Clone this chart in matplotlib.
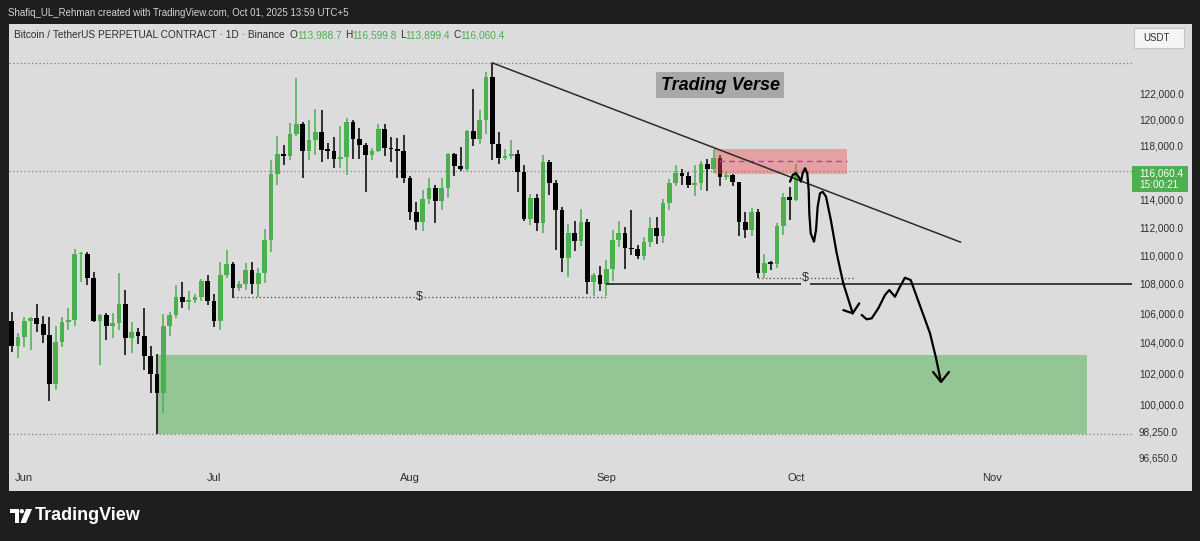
"""
BTCUSDT perpetual (Binance) daily chart, 30 May - 01 Oct 2025
re-drawn from a TradingView screenshot
"""

import numpy as np
import pandas as pd
import matplotlib
matplotlib.use("Agg")
import matplotlib.pyplot as plt
import matplotlib.dates as mdates
from matplotlib.patches import Rectangle, Polygon, Circle
from matplotlib.ticker import FixedLocator, NullLocator

# ---------------- data ----------------
dates = pd.date_range("2025-05-30", "2025-10-01", freq="D")

opens = [
    105450, 103800,
    104420, 105450, 105700, 105250, 104550, 101300, 104080, 105380, 105540, 110060,
    110110, 108440, 105470, 105870, 105160, 105360, 106600, 104350, 104700, 104460,
    103130, 101940, 100740, 105140, 105870, 107130, 106790, 106900, 107100, 108180,
    106850, 105450, 108630, 109390, 107700, 107970, 108970, 107990, 108780, 111070,
    115880, 117320, 117180, 118850, 119640, 117600, 118410, 119040, 117690, 117600,
    116970, 117100, 119780, 118460, 118000, 117270, 117620, 119220, 117810, 117700, 117580,
    115550, 113060, 112330, 114000, 114870, 113900, 114820, 117320, 116450, 116230,
    119080, 118470, 119940, 123300, 118090, 117080, 117230, 117330, 116000, 112580,
    114090, 112320, 116730, 115170, 113230, 109790, 111590, 110990, 112380, 108130, 108650,
    108000, 109040, 111070, 111560, 110500, 110440, 109970, 110920, 111920, 111330,
    113750, 115180, 115920, 115750, 115060, 115180, 116620, 116220, 117090, 115680,
    115790, 115240, 112380, 111790, 113110, 108780, 109480, 109400, 112100, 114140,
    113988.7,
]
highs = [
    106100, 104640,
    105740, 105750, 106600, 105830, 105720, 105140, 105720, 106330, 110470, 110240,
    110240, 108840, 105940, 106030, 106000, 108730, 107580, 105380, 105020, 106330,
    103800, 103250, 105950, 106060, 107920, 108140, 107530, 107300, 108340, 108650,
    107300, 109550, 110390, 109550, 108220, 109480, 109500, 109130, 111840, 116900,
    118710, 118000, 119700, 123170, 119810, 119940, 120750, 120710, 118200, 118660,
    119450, 120100, 119960, 119300, 118150, 117800, 119600, 119620, 118660, 118570, 118760,
    115750, 113830, 114690, 115550, 115050, 115550, 117470, 117470, 117880, 119200,
    122330, 120710, 123700, 124400, 119000, 117700, 118410, 117650, 116570, 114380,
    114380, 117300, 116900, 115420, 113470, 112200, 112400, 113270, 112580, 108760, 109280,
    109700, 111790, 112400, 111990, 113230, 110700, 111300, 112700, 112700, 114060,
    115480, 116500, 116230, 116000, 116570, 116860, 117000, 117740, 117300, 116000,
    115900, 115300, 113110, 113400, 113270, 110100, 109600, 112300, 114440, 114900,
    116599.8,
]
lows = [
    103400, 103000,
    103700, 103530, 104750, 104030, 100210, 100920, 103710, 104860, 105140, 108160,
    107920, 105400, 102540, 104170, 104310, 104860, 103200, 103350, 103900, 102220,
    100740, 98100, 99430, 104460, 105700, 106330, 106220, 106700, 106800, 106540,
    105050, 104860, 108390, 107060, 107510, 107580, 107300, 107100, 108090, 110260,
    115050, 116500, 116900, 118710, 115550, 116910, 117280, 116740, 116950, 116290,
    116290, 115770, 116950, 116990, 114560, 116900, 117500, 117230, 116780, 115550, 115200,
    112500, 111790, 111720, 113680, 112280, 113200, 114100, 115700, 116100, 116100,
    117940, 118100, 118870, 116910, 116580, 116900, 117000, 114560, 112450, 112130,
    111720, 111560, 114300, 110370, 108850, 108500, 110300, 110640, 107280, 107200, 107500,
    107160, 108200, 110550, 109020, 110000, 109750, 109650, 110570, 110760, 110840,
    113230, 114990, 115090, 114800, 114270, 114700, 114590, 115920, 114990, 115400,
    115000, 111350, 111200, 111350, 108390, 108420, 108980, 109100, 111400, 112500,
    113899.4,
]
closes = [
    103800, 104420,
    105450, 105700, 105250, 104550, 101300, 104080, 105380, 105540, 110060, 110110,
    108440, 105470, 105870, 105160, 105360, 106600, 104350, 104700, 104460, 103130,
    101940, 100740, 105140, 105870, 107130, 106790, 106900, 107100, 108180, 106850,
    105450, 108630, 109390, 107700, 107970, 108970, 107990, 108780, 111070, 115880,
    117320, 117180, 118850, 119640, 117600, 118410, 119040, 117690, 117600, 116970,
    117100, 119780, 118460, 118000, 117270, 117620, 119220, 117810, 117700, 117580, 115550,
    113060, 112330, 114000, 114870, 113900, 114820, 117320, 116450, 116230, 119080,
    118470, 119940, 123300, 118090, 117080, 117230, 117330, 116000, 112580, 114090,
    112320, 116730, 115170, 113230, 109790, 111590, 110990, 112380, 108130, 108650, 108000,
    109040, 111070, 111560, 110500, 110440, 109970, 110920, 111920, 111330, 113750,
    115180, 115920, 115750, 115060, 115180, 116620, 116220, 117090, 115680, 115790,
    115240, 112380, 111790, 113110, 108780, 109480, 109400, 112100, 114140, 113988.7,
    116060.4,
]

last_price = 116060.4
range_high = 124400
range_low = 98100

price_ticks = [122000, 120000, 118000, 114000, 112000, 110000, 108000,
               106000, 104000, 102000, 100000, 98250, 96650]
month_ticks = ["2025-06-01", "2025-07-01", "2025-08-01", "2025-09-01",
               "2025-10-01", "2025-11-01"]
month_labels = ["Jun", "Jul", "Aug", "Sep", "Oct", "Nov"]

# drawings on the chart (dates / prices)
demand_zone = ("2025-06-22", "2025-11-16", 98100, 103200)
supply_zone = ("2025-09-18 05:00", "2025-10-09 02:00", 115870, 117730)
supply_mid = 116830
trend_line = (("2025-08-14", 124400), ("2025-10-27", 110930))
support_line = ("2025-09-01", 108000)
liq_lines = [("2025-07-04", "2025-09-01", 107100), ("2025-09-25", "2025-10-10", 108430)]

# hand drawn projection, days after 1 Jun / price
sketch1_day = [121.06, 121.48, 121.96, 122.43, 122.79, 123.06, 123.43, 123.79, 124.01,
               124.11, 124.33, 124.85, 125.17, 125.43, 125.80, 126.22, 126.75, 127.49,
               128.44, 129.48, 130.97]
sketch1_price = [115300, 115790, 115920, 115665, 115300, 115920, 116290, 115920, 114690,
                 112990, 111555, 110960, 111790, 113470, 114440, 114560, 114200, 112560,
                 110140, 108040, 105990]
head1_day = [129.48, 130.97, 132.01]
head1_price = [106210, 105990, 106670]
sketch2_day = [132.39, 133.18, 133.97, 135.02, 136.07, 136.75, 137.65, 138.44, 139.23,
               140.14, 141.09, 142.24, 143.19, 144.14, 144.93]
sketch2_price = [105880, 105585, 105650, 106330, 107240, 107580, 107120, 107810, 108430,
                 108270, 107120, 105760, 104645, 103000, 101440]
head2_day = [143.67, 144.93, 146.19]
head2_price = [102090, 101440, 102090]

# ---------------- style ----------------
W, H = 1200, 541
BG = "#dcdcdc"
DARK = "#1e1e1e"
UP = "#4caf50"
DOWN = "#000000"
TXT = "#2e2e2e"
NARROW = ["Liberation Sans Narrow", "Liberation Sans", "DejaVu Sans"]


def fx(px):
    return px / W


def fy(py):
    return 1 - py / H


def d2n(s):
    return mdates.date2num(pd.Timestamp(s))


fig = plt.figure(figsize=(W / 100, H / 100), dpi=100)
fig.patch.set_facecolor(DARK)
fig.add_artist(Rectangle((fx(9), fy(491)), fx(1192) - fx(9), fy(24) - fy(491),
                         transform=fig.transFigure, facecolor=BG, edgecolor="none", zorder=0))

ax = fig.add_axes([fx(9), fy(465), fx(1132) - fx(9), fy(24) - fy(465)])
ax.set_facecolor(BG)
for s in ax.spines.values():
    s.set_visible(False)

x0 = d2n("2025-06-01")
xs = mdates.date2num(dates)
o = np.array(opens, dtype=float)
h = np.array(highs, dtype=float)
l = np.array(lows, dtype=float)
c = np.array(closes, dtype=float)

ax.set_yscale("log")
ax.set_xlim(x0 - 2.40, x0 + 175.12)
ax.set_ylim(96193, 127530)

# candles
cols = np.where(c >= o, UP, DOWN)
ax.vlines(xs, l, h, colors=cols, linewidth=1.1, zorder=3)
body_lo = np.minimum(o, c)
body_h = np.maximum(np.abs(c - o), o * 0.0009)
ax.bar(xs, body_h, bottom=body_lo, width=0.74, color=cols, linewidth=0, zorder=4)

# zones
z0, z1, zlo, zhi = demand_zone
ax.add_patch(Rectangle((d2n(z0), zlo), d2n(z1) - d2n(z0), zhi - zlo,
                       facecolor=UP, alpha=0.5, edgecolor="none", zorder=1))
z0, z1, zlo, zhi = supply_zone
ax.add_patch(Rectangle((d2n(z0), zlo), d2n(z1) - d2n(z0), zhi - zlo,
                       facecolor="#ef5350", alpha=0.42, edgecolor="none", zorder=5))
ax.hlines(supply_mid, d2n(z0) + 0.6, d2n(z1), colors="#a9479a", linewidth=1.0,
          linestyles=(0, (4, 3)), zorder=6)

# dotted price lines
xl = ax.get_xlim()
dot = (0, (1, 2))
for p in (range_high, last_price, range_low):
    ax.hlines(p, xl[0], xl[1], colors="#7f7f7f", linewidth=0.9, linestyles=dot, zorder=2)

# lines
(t0, p0), (t1, p1) = trend_line
ax.plot([d2n(t0), d2n(t1)], [p0, p1], color="#2b2b2b", linewidth=1.1, zorder=7)
ax.hlines(support_line[1], d2n(support_line[0]), xl[1], colors="#111111", linewidth=1.1, zorder=7)
for a, b, p in liq_lines:
    ax.hlines(p, d2n(a), d2n(b), colors="#444444", linewidth=0.9, linestyles=dot, zorder=7)
    ax.text((d2n(a) + d2n(b)) / 2, p, "$", ha="center", va="center", fontsize=9,
            color=TXT, family=NARROW, zorder=8,
            bbox=dict(facecolor=BG, edgecolor="none", pad=1.0))

# hand drawn arrows
kw = dict(color="black", linewidth=1.6, solid_capstyle="round", solid_joinstyle="round", zorder=9)
ax.plot(x0 + np.array(sketch1_day), sketch1_price, **kw)
ax.plot(x0 + np.array(head1_day), head1_price, **kw)
ax.plot(x0 + np.array(sketch2_day), sketch2_price, **kw)
ax.plot(x0 + np.array(head2_day), head2_price, **kw)

ax.text(x0 + 110.0, 122650, "Trading Verse", ha="center", va="center", fontsize=13,
        fontweight="bold", fontstyle="italic", family=NARROW, color="black", zorder=10,
        bbox=dict(facecolor="#a8a8a8", edgecolor="none", pad=3.5))

# axes ticks
ax.yaxis.tick_right()
ax.yaxis.set_major_locator(FixedLocator(price_ticks))
ax.yaxis.set_minor_locator(NullLocator())
ax.set_yticklabels([f"{v:,.1f}" for v in price_ticks])
ax.set_xticks([d2n(m) for m in month_ticks])
ax.set_xticklabels(month_labels)
ax.tick_params(axis="y", length=0, pad=5, labelsize=7.2, labelcolor=TXT)
ax.tick_params(axis="x", length=0, pad=6, labelsize=8, labelcolor=TXT)
for t in ax.get_xticklabels() + ax.get_yticklabels():
    t.set_family(NARROW)

# last price label on the scale
fig.add_artist(Rectangle((fx(1132), fy(192)), fx(1188) - fx(1132), fy(166) - fy(192),
                         transform=fig.transFigure, facecolor=UP, edgecolor="none", zorder=5))
fig.text(fx(1139), fy(173), f"{last_price:,.1f}", color="white", fontsize=7.2,
         va="center", family=NARROW, zorder=6)
fig.text(fx(1139), fy(185), "15:00:21", color="white", fontsize=7.2,
         va="center", family=NARROW, zorder=6)

# currency box
fig.add_artist(Rectangle((fx(1134), fy(48)), fx(1184) - fx(1134), fy(28) - fy(48),
                         transform=fig.transFigure, facecolor="#f5f5f5",
                         edgecolor="#c4c4c4", linewidth=0.8, zorder=5))
fig.text(fx(1143), fy(38), "USDT", color=TXT, fontsize=7, va="center",
         family=NARROW, zorder=6)

# header texts
fig.text(fx(8), fy(13), "Shafiq_UL_Rehman created with TradingView.com, Oct 01, 2025 13:59 UTC+5",
         color="#d4d4d4", fontsize=7, va="center", family=NARROW)

renderer = fig.canvas.get_renderer()
pieces = [("Bitcoin / TetherUS PERPETUAL CONTRACT \u00b7 1D \u00b7 Binance", TXT, 5),
          ("O", TXT, 0), (f"{opens[-1]:,.1f}", UP, 3),
          ("H", TXT, 0), (f"{highs[-1]:,.1f}", UP, 3),
          ("L", TXT, 0), (f"{lows[-1]:,.1f}", UP, 3),
          ("C", TXT, 0), (f"{closes[-1]:,.1f}", UP, 0)]
px = 14
for s, col, gap in pieces:
    t = fig.text(fx(px), fy(35), s, color=col, fontsize=7.3, va="center", family=NARROW)
    px += t.get_window_extent(renderer=renderer).width + gap

# TradingView logo
lax = fig.add_axes([fx(10), fy(524), fx(32) - fx(10), fy(508) - fy(524)])
lax.set_xlim(0, 22)
lax.set_ylim(16, 0)
lax.axis("off")
lax.add_patch(Polygon([(0, 1), (9, 1), (9, 15), (5, 15), (5, 5), (0, 5)], closed=True,
                      facecolor="white", edgecolor="none"))
lax.add_patch(Circle((11.8, 3.2), 2.2, facecolor="white", edgecolor="none"))
lax.add_patch(Polygon([(16, 1), (22, 1), (16, 15), (10.5, 15)], closed=True,
                      facecolor="white", edgecolor="none"))
fig.text(fx(35), fy(516), "TradingView", color="white", fontsize=13, fontweight="bold",
         va="center", family=["Liberation Sans", "DejaVu Sans"])

fig.savefig("out.png", dpi=100, facecolor=fig.get_facecolor())
